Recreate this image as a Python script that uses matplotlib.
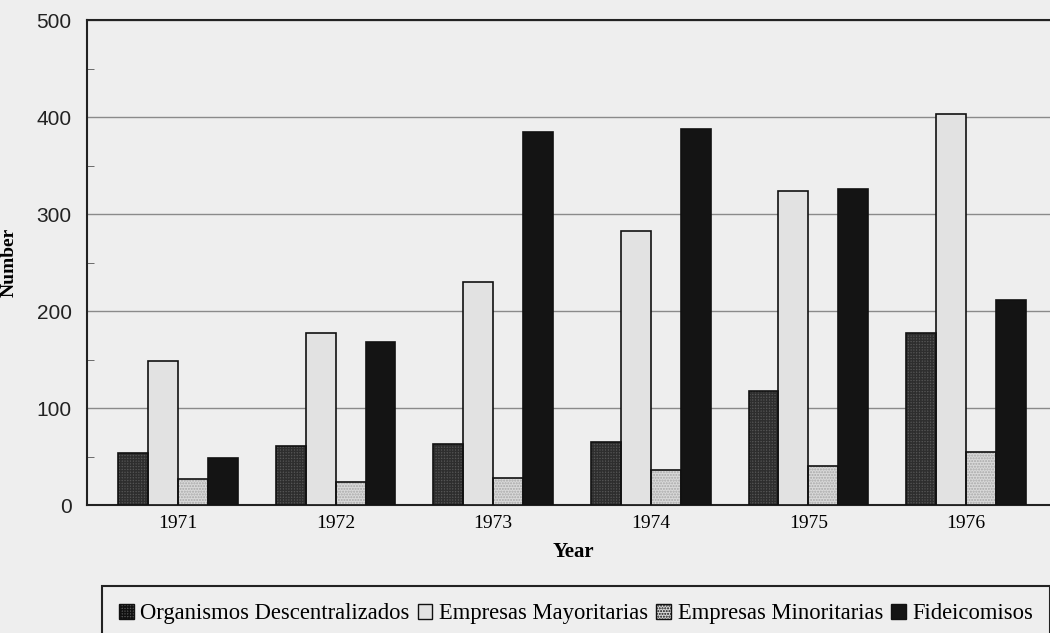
import numpy as np
import matplotlib.pyplot as plt
from matplotlib.patches import Patch

# data
years = ["1971", "1972", "1973", "1974", "1975", "1976"]
organismos = [54, 61, 63, 65, 118, 177]
mayoritarias = [148, 177, 230, 282, 324, 403]
minoritarias = [27, 24, 28, 36, 40, 55]
fideicomisos = [48, 168, 385, 388, 326, 211]

series_names = ["Organismos Descentralizados", "Empresas Mayoritarias",
                "Empresas Minoritarias", "Fideicomisos"]
series_values = [organismos, mayoritarias, minoritarias, fideicomisos]

# fill, hatch, hatch colour per series
styles = [
    ("#555555", "++++++", "#2e2e2e"),
    ("#e2e2e2", "", "#e2e2e2"),
    ("#d9d9d9", "......", "#a8a8a8"),
    ("#141414", "", "#141414"),
]

bg = "#eeeeee"
serif = ["Liberation Serif", "DejaVu Serif"]
sans = ["Liberation Sans", "DejaVu Sans"]

fig = plt.figure(figsize=(10.5, 6.33), dpi=100, facecolor=bg)
ax = fig.add_axes([0.0829, 0.2022, 0.9267, 0.7662])
ax.set_facecolor(bg)

x = np.arange(len(years))
bar_w = 0.19
for j, (vals, (fc, hatch, hc)) in enumerate(zip(series_values, styles)):
    pos = x + (j - 1.5) * bar_w
    # texture layer, then outline
    ax.bar(pos, vals, bar_w, color=fc, hatch=hatch, edgecolor=hc, linewidth=0, zorder=3)
    ax.bar(pos, vals, bar_w, fill=False, edgecolor="#111111", linewidth=1.2, zorder=4)

ax.set_xlim(-0.577, 5.597)
ax.set_ylim(0, 500)
ax.set_xticks(x)
ax.set_xticklabels(years, fontsize=14, family=serif)
ax.set_yticks([0, 100, 200, 300, 400, 500])
ax.set_yticklabels(["0", "100", "200", "300", "400", "500"], fontsize=15, family=sans,
                   color="#222222")
ax.set_yticks(np.arange(50, 500, 100), minor=True)
ax.tick_params(axis="y", which="major", length=0, pad=11)
ax.tick_params(axis="y", which="minor", length=5, direction="in", color="#555555")
ax.tick_params(axis="x", length=0, pad=7)
ax.grid(axis="y", color="#8a8a8a", linewidth=1.0, zorder=0)

for side in ["left", "top", "bottom"]:
    ax.spines[side].set_linewidth(1.5)
    ax.spines[side].set_color("#222222")
ax.spines["right"].set_visible(False)

ax.set_xlabel("Year", fontsize=15, fontweight="bold", family=serif)
ax.xaxis.set_label_coords(0.5, -0.076)
ax.set_ylabel("Number", fontsize=14, fontweight="bold", family=serif)
ax.yaxis.set_label_coords(-0.071, 0.5)

handles = [Patch(facecolor=fc, hatch=hatch, edgecolor="#111111", linewidth=1.0)
           for fc, hatch, hc in styles]
leg = fig.legend(handles, series_names, loc="upper left", bbox_to_anchor=(0.097, 0.0742),
                 ncol=4, frameon=True, fancybox=False, edgecolor="#222222",
                 facecolor=bg, framealpha=1, prop={"family": serif, "size": 16.3},
                 handlelength=0.65, handleheight=0.65, handletextpad=0.3,
                 columnspacing=0.35, borderpad=0.75, borderaxespad=0)
leg.get_frame().set_linewidth(1.5)

fig.savefig("out.png", dpi=100, facecolor=bg)
